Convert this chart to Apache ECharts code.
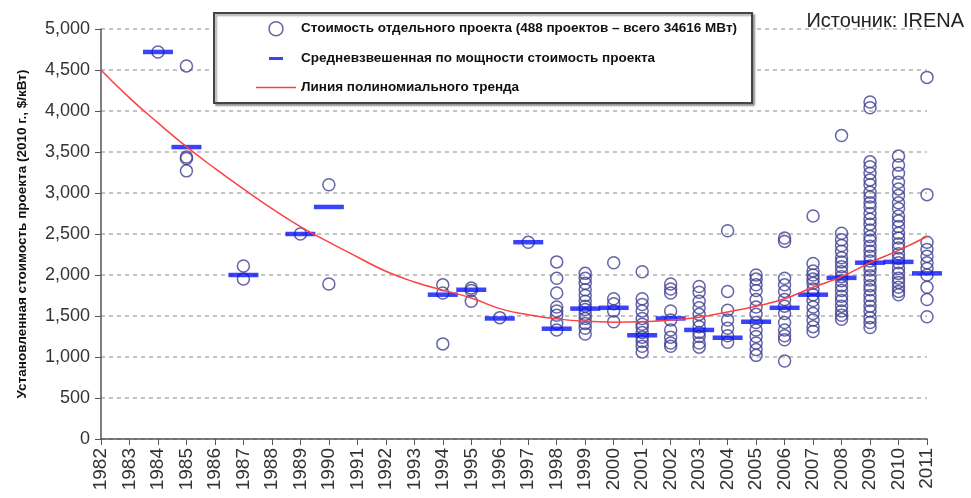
<!DOCTYPE html>
<html>
<head>
<meta charset="utf-8">
<script src="https://cdn.jsdelivr.net/npm/echarts@6/dist/echarts.min.js"></script>
<style>
  html, body { margin: 0; padding: 0; background: #fff; }
  #chart { width: 971px; height: 498px; }
</style>
</head>
<body>
<div id="chart"></div>
<script>
// годы, для которых есть проекты
var projectYears = [1984, 1985, 1987, 1989, 1990, 1994, 1995, 1996, 1997, 1998, 1999, 2000,
  2001, 2002, 2003, 2004, 2005, 2006, 2007, 2008, 2009, 2010, 2011];

// стоимость отдельных проектов, $/кВт (по годам, в порядке projectYears)
var projectCosts = [
  [4720],
  [4550, 3440, 3420, 3270],
  [2110, 1950],
  [2500],
  [3100, 1890],
  [1880, 1780, 1160],
  [1840, 1810, 1680],
  [1480],
  [2400],
  [2160, 1960, 1780, 1610, 1560, 1510, 1410, 1330],
  [2020, 1960, 1900, 1820, 1750, 1680, 1620, 1580, 1520, 1470, 1410, 1350, 1280],
  [2150, 1710, 1650, 1560, 1430],
  [2040, 1710, 1640, 1560, 1470, 1400, 1360, 1300, 1240, 1190, 1130, 1060],
  [1890, 1830, 1780, 1560, 1450, 1330, 1240, 1170, 1130],
  [1860, 1790, 1680, 1600, 1520, 1440, 1370, 1300, 1250, 1170, 1120],
  [2540, 1800, 1570, 1450, 1350, 1260, 1180],
  [2000, 1950, 1880, 1810, 1700, 1610, 1520, 1420, 1330, 1250, 1170, 1090, 1020],
  [2450, 2410, 1960, 1880, 1800, 1700, 1620, 1530, 1420, 1330, 1260, 1210, 950],
  [2720, 2140, 2050, 2000, 1950, 1900, 1830, 1760, 1690, 1610, 1530, 1450, 1370, 1310],
  [3700, 2510, 2430, 2360, 2290, 2210, 2160, 2100, 2040, 1980, 1930, 1870, 1810, 1740,
   1690, 1620, 1560, 1510, 1460],
  [4110, 4040, 3380, 3320, 3240, 3160, 3100, 3010, 2950, 2880, 2830, 2750, 2680, 2620,
   2550, 2470, 2420, 2350, 2290, 2230, 2170, 2110, 2060, 1990, 1940, 1870, 1820, 1750,
   1690, 1620, 1560, 1480, 1420, 1360],
  [3450, 3340, 3240, 3130, 3050, 2970, 2880, 2810, 2720, 2660, 2590, 2510, 2450, 2380,
   2330, 2260, 2200, 2150, 2080, 2020, 1960, 1910, 1850, 1800, 1760],
  [4410, 2980, 2400, 2310, 2230, 2150, 2080, 2000, 1850, 1700, 1490]
];

// средневзвешенная по мощности стоимость
var meanCosts = [4720, 3560, 2000, 2500, 2830, 1760, 1820, 1470, 2400, 1345, 1590, 1600,
  1265, 1470, 1330, 1235, 1430, 1600, 1760, 1965, 2150, 2160, 2020];

// полиномиальный тренд
var trendYears = [1982, 1983, 1984, 1985, 1986, 1987, 1988, 1989, 1990, 1991, 1992, 1993,
  1994, 1995, 1996, 1997, 1998, 1999, 2000, 2001, 2002, 2003, 2004, 2005, 2006, 2007,
  2008, 2009, 2010, 2011];
var trendCosts = [4500, 4160, 3855, 3565, 3300, 3050, 2810, 2590, 2400, 2220, 2045, 1915,
  1815, 1720, 1590, 1515, 1465, 1435, 1425, 1430, 1450, 1485, 1550, 1620, 1710, 1850,
  1980, 2150, 2300, 2470];

var seriesNames = [
  'Стоимость отдельного проекта (488 проектов – всего 34616 МВт)',
  'Средневзвешенная по мощности стоимость проекта',
  'Линия полиномиального тренда'
];

var scatterData = [];
projectYears.forEach(function (y, i) {
  projectCosts[i].forEach(function (v) { scatterData.push([y, v]); });
});
var meanData = projectYears.map(function (y, i) { return [y, meanCosts[i]]; });
var trendData = trendYears.map(function (y, i) { return [y, trendCosts[i]]; });

var axisColor = '#555';
var circleColor = '#3e3e92';
var barColor = '#0a14f5';
var trendColor = '#ff4040';
var labelFont = 'Liberation Sans, Arial, sans-serif';

var chart = echarts.init(document.getElementById('chart'));
chart.setOption({
  animation: false,
  textStyle: { fontFamily: labelFont },
  title: {
    text: 'Источник: IRENA',
    right: 2,
    top: 6,
    textStyle: { fontSize: 20, fontWeight: 'normal', color: '#222', fontFamily: labelFont }
  },
  grid: { left: 101, right: 44, top: 29, bottom: 59 },
  graphic: [{
    type: 'rect',
    z: 3,
    shape: { x: 214, y: 13, width: 538, height: 90 },
    style: { fill: '#fff', stroke: '#444', lineWidth: 2,
      shadowColor: 'rgba(0,0,0,0.35)', shadowOffsetX: 2, shadowOffsetY: 2, shadowBlur: 2 }
  }],
  legend: {
    orient: 'vertical',
    left: 256,
    top: 21,
    z: 5,
    padding: 0,
    itemWidth: 40,
    itemHeight: 14,
    itemGap: 15,
    textStyle: { fontSize: 13.5, fontWeight: 'bold', color: '#111', fontFamily: labelFont },
    data: [
      { name: seriesNames[0], icon: 'circle',
        itemStyle: { color: 'rgba(0,0,0,0)', borderColor: circleColor, borderWidth: 1.5 } },
      { name: seriesNames[1],
        icon: 'path://M0,0L40,0Z M0,14L40,14Z M13,5.5L27,5.5L27,8.5L13,8.5Z',
        itemStyle: { color: barColor, borderWidth: 0 } },
      { name: seriesNames[2],
        icon: 'path://M0,0L40,0Z M0,14L40,14Z M0,6.2L40,6.2L40,7.8L0,7.8Z',
        itemStyle: { color: trendColor, borderWidth: 0 } }
    ]
  },
  xAxis: {
    type: 'value',
    min: 1982,
    max: 2011,
    interval: 1,
    axisLine: { lineStyle: { color: axisColor, width: 1.5 } },
    axisTick: { length: 6, lineStyle: { color: axisColor } },
    splitLine: { show: false },
    axisLabel: {
      rotate: 90,
      margin: 9,
      fontSize: 19,
      color: '#333',
      formatter: function (v) { return String(v); }
    }
  },
  yAxis: {
    type: 'value',
    min: 0,
    max: 5000,
    interval: 500,
    name: 'Установленная стоимость проекта (2010 г., $/кВт)',
    nameLocation: 'middle',
    nameGap: 72,
    nameTextStyle: { fontSize: 13.5, fontWeight: 'bold', color: '#111', fontFamily: labelFont },
    axisLine: { show: true, lineStyle: { color: axisColor, width: 1.5 } },
    axisTick: { show: true, length: 6, lineStyle: { color: axisColor } },
    splitLine: { lineStyle: { color: '#b0b0b0', width: 1.5, type: [4, 4] } },
    axisLabel: { margin: 11, fontSize: 18, color: '#333' }
  },
  series: [
    {
      name: seriesNames[0],
      type: 'scatter',
      z: 2,
      symbol: 'circle',
      symbolSize: 12,
      itemStyle: { color: 'rgba(0,0,0,0)', borderColor: circleColor, borderWidth: 1.5 },
      data: scatterData
    },
    {
      name: seriesNames[1],
      type: 'scatter',
      z: 3,
      symbol: 'rect',
      symbolSize: [30, 4.5],
      itemStyle: { color: barColor },
      data: meanData
    },
    {
      name: seriesNames[2],
      type: 'line',
      z: 4,
      smooth: true,
      symbol: 'none',
      lineStyle: { color: trendColor, width: 1.5 },
      data: trendData
    }
  ]
});
</script>
</body>
</html>
